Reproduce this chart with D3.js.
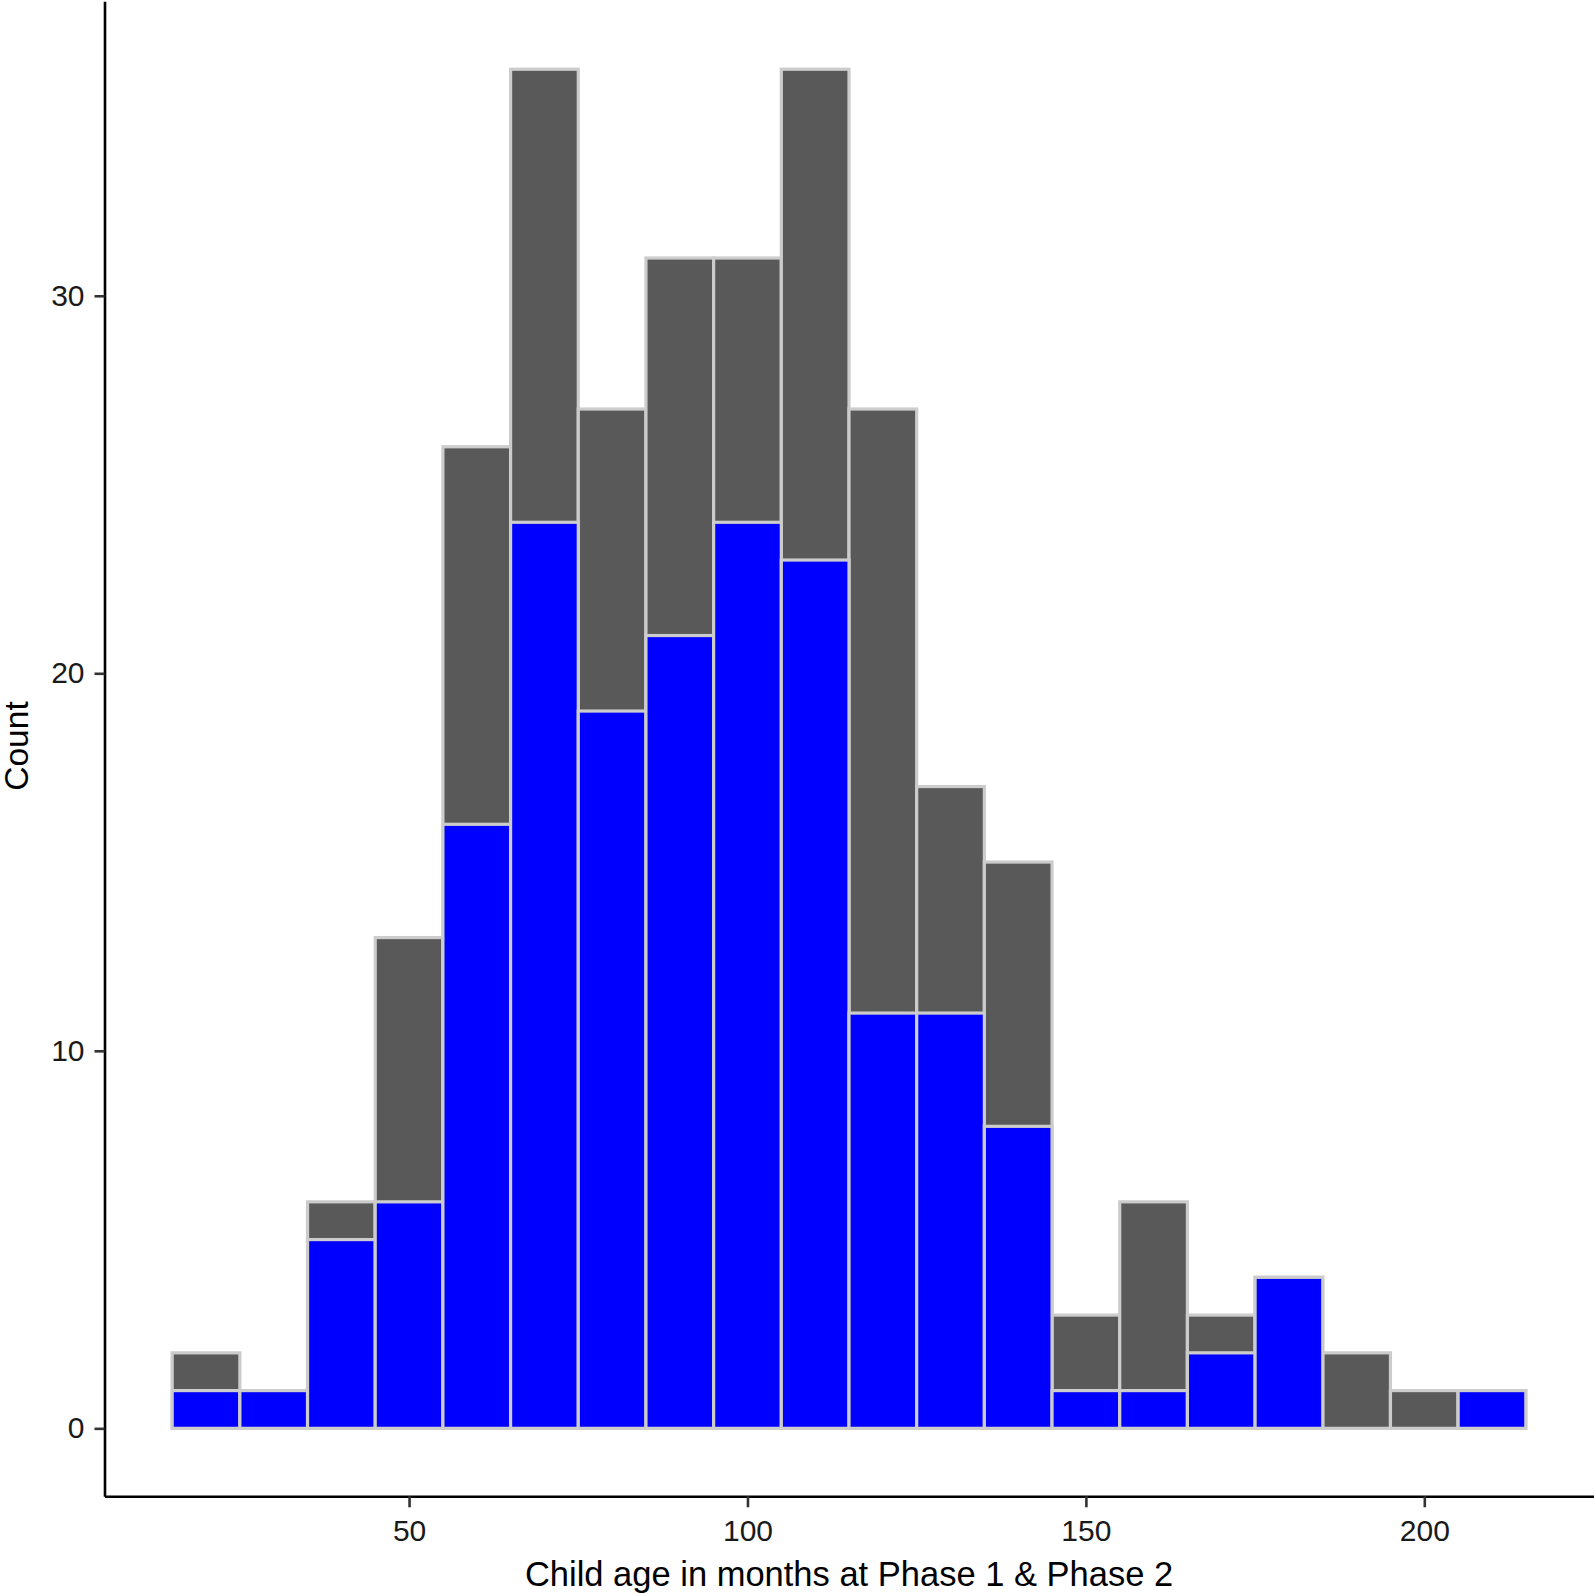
<!DOCTYPE html>
<html>
<head>
<meta charset="utf-8">
<script src="https://cdn.jsdelivr.net/npm/d3@7"></script>
<style>
  body { margin: 0; background: #fff; }
  text { font-family: "Liberation Sans", Arial, sans-serif; }
</style>
</head>
<body>
<svg id="chart" width="1594" height="1594"></svg>
<script>
// bin centres (months), bin width 10
const binCenters = [20, 30, 40, 50, 60, 70, 80, 90, 100, 110, 120, 130, 140, 150, 160, 170, 180, 190, 200, 210];
// grey layer (drawn first)
const greyCounts = [2, 1, 6, 13, 26, 36, 27, 31, 31, 36, 27, 17, 15, 3, 6, 3, 4, 2, 1, 1];
// blue layer (drawn on top)
const blueCounts = [1, 1, 5, 6, 16, 24, 19, 21, 24, 23, 11, 11, 8, 1, 1, 2, 4, 0, 0, 1];
const xTicks = [50, 100, 150, 200];
const yTicks = [0, 10, 20, 30];
const binWidth = 10;

function drawChart() {
  const svg = d3.select("svg#chart");

  // ggplot style 5% expansion on both axes
  const x = d3.scaleLinear()
    .domain([5, 225])
    .range([104.5, 1593.5]);

  const y = d3.scaleLinear()
    .domain([-1.8, 37.8])
    .range([1496.3, 1.3]);

  function drawLayer(counts, fill, cls) {
    const data = binCenters.map((c, i) => ({ c: c, n: counts[i] })).filter(d => d.n > 0);
    svg.selectAll("." + cls)
      .data(data)
      .enter().append("rect")
      .attr("class", cls)
      .attr("x", d => x(d.c - binWidth / 2))
      .attr("y", d => y(d.n))
      .attr("width", d => x(d.c + binWidth / 2) - x(d.c - binWidth / 2))
      .attr("height", d => y(0) - y(d.n))
      .attr("fill", fill)
      .attr("stroke", "#cccccc")
      .attr("stroke-width", 3.2);
  }

  drawLayer(greyCounts, "#595959", "grey-bar");
  drawLayer(blueCounts, "#0000ff", "blue-bar");

  // y axis
  const yAxis = svg.append("g")
    .attr("transform", "translate(" + x(5) + ",0)")
    .call(d3.axisLeft(y).tickValues(yTicks).tickSize(10).tickSizeOuter(0).tickPadding(10));

  // x axis
  const xAxis = svg.append("g")
    .attr("transform", "translate(0," + y(-1.8) + ")")
    .call(d3.axisBottom(x).tickValues(xTicks).tickSize(11).tickSizeOuter(0).tickPadding(12));

  [yAxis, xAxis].forEach(g => {
    g.select(".domain").attr("stroke", "#000").attr("stroke-width", 2.6);
    g.selectAll(".tick line").attr("stroke", "#333").attr("stroke-width", 2.6);
    g.selectAll(".tick text")
      .style("font-size", "30px")
      .style("font-family", "'Liberation Sans', Arial, sans-serif")
      .attr("fill", "#1a1a1a");
  });

  // axis titles
  svg.append("text")
    .attr("x", (x(5) + x(225)) / 2)
    .attr("y", 1586)
    .attr("text-anchor", "middle")
    .style("font-size", "34.5px")
    .attr("fill", "#000")
    .text("Child age in months at Phase 1 & Phase 2");

  svg.append("text")
    .attr("transform", "translate(28," + 746 + ") rotate(-90)")
    .attr("text-anchor", "middle")
    .style("font-size", "33.5px")
    .attr("fill", "#000")
    .text("Count");
}

drawChart();
</script>
</body>
</html>
